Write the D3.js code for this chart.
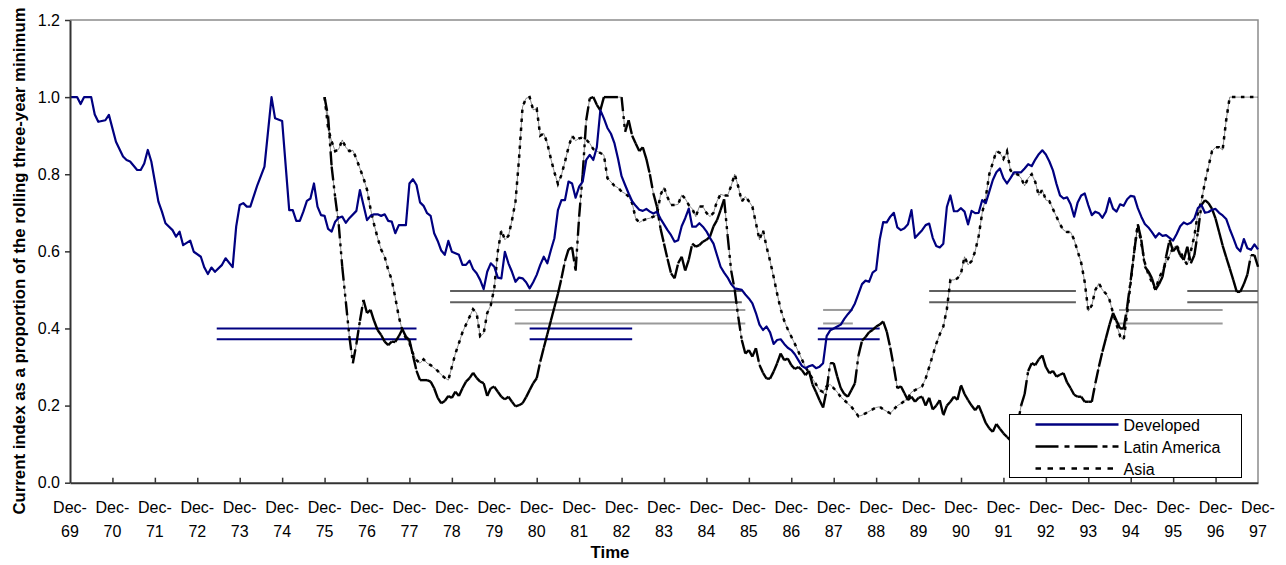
<!DOCTYPE html>
<html>
<head>
<meta charset="utf-8">
<script src="https://cdn.jsdelivr.net/npm/d3@7"></script>
<style>
  body { margin: 0; background: #fff; }
  text { font-family: Arial, "Liberation Sans", sans-serif; fill: #000; }
</style>
</head>
<body>
<svg id="chart" width="1286" height="565"></svg>
<script>
// Month offsets are counted from December 1969 (0) to December 1997 (336).
const yearLabels = ["69","70","71","72","73","74","75","76","77","78","79","80","81","82","83",
  "84","85","86","87","88","89","90","91","92","93","94","95","96","97"];
const yTicks = [0, 0.2, 0.4, 0.6, 0.8, 1.0, 1.2];

// Developed markets: [month, ratio]
const developed = [
  [0,1.0],[2,1.0],[3,0.982],[4,1.0],[6,1.0],[7,0.955],[8,0.936],[10,0.94],[11,0.954],[13,0.884],
  [15,0.846],[16,0.837],[17,0.833],[19,0.811],[20,0.811],[21,0.828],[22,0.863],[23,0.833],[24,0.781],
  [25,0.729],[26,0.703],[27,0.673],[29,0.655],[30,0.638],[31,0.651],[32,0.616],[34,0.628],[35,0.599],
  [37,0.586],[38,0.558],[39,0.541],[40,0.558],[41,0.547],[43,0.565],[44,0.582],[46,0.559],[47,0.664],
  [48,0.72],[49,0.725],[50,0.716],[51,0.716],[53,0.772],[55,0.82],[57,1.0],[58,0.945],[60,0.938],
  [62,0.707],[63,0.707],[64,0.679],[65,0.679],[66,0.703],[67,0.731],[68,0.737],[69,0.776],[70,0.716],
  [71,0.694],[72,0.692],[73,0.658],[74,0.651],[75,0.677],[76,0.687],[77,0.69],[78,0.674],[79,0.686],
  [81,0.705],[82,0.759],[83,0.72],[84,0.681],[85,0.692],[86,0.696],[87,0.696],[88,0.692],[89,0.696],
  [90,0.679],[91,0.677],[92,0.647],[93,0.668],[94,0.668],[95,0.668],[96,0.776],[97,0.787],[98,0.772],
  [99,0.727],[100,0.718],[101,0.699],[102,0.692],[103,0.647],[104,0.627],[105,0.602],[106,0.591],
  [107,0.627],[108,0.599],[109,0.595],[110,0.591],[111,0.565],[112,0.565],[113,0.576],[114,0.554],
  [115,0.543],[116,0.526],[117,0.502],[118,0.547],[119,0.569],[120,0.56],[121,0.532],[122,0.53],
  [123,0.599],[124,0.569],[125,0.547],[126,0.521],[127,0.532],[128,0.53],[129,0.52],[130,0.504],
  [131,0.52],[132,0.539],[133,0.565],[134,0.586],[135,0.569],[136,0.603],[137,0.634],[138,0.707],
  [139,0.733],[140,0.733],[141,0.781],[142,0.776],[143,0.739],[144,0.768],[145,0.781],[146,0.837],
  [147,0.85],[148,0.837],[149,0.87],[150,0.966],[151,0.945],[152,0.92],[153,0.905],[154,0.88],
  [155,0.84],[156,0.795],[157,0.772],[158,0.75],[159,0.73],[160,0.718],[161,0.708],[162,0.705],
  [163,0.71],[164,0.703],[165,0.698],[166,0.703],[167,0.685],[168,0.67],[169,0.655],[170,0.642],
  [171,0.625],[172,0.629],[173,0.665],[174,0.686],[175,0.711],[176,0.664],[177,0.664],[178,0.673],
  [179,0.664],[180,0.652],[181,0.635],[182,0.62],[183,0.59],[184,0.56],[185,0.545],[186,0.532],
  [187,0.515],[188,0.504],[189,0.502],[190,0.5],[191,0.488],[192,0.478],[193,0.465],[194,0.44],
  [195,0.41],[196,0.396],[197,0.405],[198,0.39],[199,0.36],[200,0.37],[201,0.372],[202,0.36],
  [203,0.35],[204,0.344],[205,0.333],[206,0.318],[207,0.303],[208,0.297],[209,0.302],[210,0.305],
  [211,0.297],[212,0.301],[213,0.31],[214,0.38],[215,0.395],[216,0.4],[217,0.405],[218,0.41],
  [219,0.425],[220,0.437],[221,0.448],[222,0.465],[223,0.49],[224,0.515],[225,0.524],[226,0.521],
  [227,0.545],[228,0.552],[229,0.63],[230,0.676],[231,0.675],[232,0.69],[233,0.7],[234,0.662],
  [235,0.655],[236,0.66],[237,0.67],[238,0.707],[239,0.635],[240,0.645],[241,0.655],[242,0.668],
  [243,0.672],[244,0.635],[245,0.614],[246,0.61],[247,0.62],[248,0.715],[249,0.745],[250,0.704],
  [251,0.704],[252,0.712],[253,0.703],[254,0.67],[255,0.705],[256,0.699],[257,0.7],[258,0.733],
  [259,0.725],[260,0.755],[261,0.785],[262,0.805],[263,0.815],[264,0.79],[265,0.776],[266,0.79],
  [267,0.805],[268,0.805],[269,0.805],[270,0.815],[271,0.826],[272,0.821],[273,0.838],[274,0.852],
  [275,0.862],[276,0.851],[277,0.833],[278,0.81],[279,0.775],[280,0.745],[281,0.737],[282,0.74],
  [283,0.722],[284,0.69],[285,0.727],[286,0.745],[287,0.75],[288,0.72],[289,0.694],[290,0.703],
  [291,0.699],[292,0.687],[293,0.703],[294,0.738],[295,0.711],[296,0.703],[297,0.722],[298,0.718],
  [299,0.735],[300,0.744],[301,0.742],[302,0.712],[303,0.69],[304,0.671],[305,0.662],[306,0.65],
  [307,0.636],[308,0.647],[309,0.64],[310,0.642],[311,0.635],[312,0.628],[313,0.645],[314,0.665],
  [315,0.675],[316,0.67],[317,0.674],[318,0.685],[319,0.712],[320,0.72],[321,0.7],[322,0.702],
  [323,0.708],[324,0.71],[325,0.7],[326,0.693],[327,0.684],[328,0.658],[329,0.635],[330,0.61],
  [331,0.6],[332,0.632],[333,0.608],[334,0.604],[335,0.618],[336,0.605]
];

// Latin America: [month, ratio]
const latinAmerica = [
  [72,1.0],[73,0.95],[74,0.82],[75,0.74],[76,0.67],[77,0.56],[78,0.47],[79,0.38],[80,0.31],[81,0.36],
  [82,0.42],[83,0.474],[84,0.44],[85,0.448],[86,0.42],[87,0.396],[88,0.383],[89,0.366],[90,0.357],
  [91,0.366],[92,0.365],[93,0.38],[94,0.398],[95,0.379],[96,0.37],[97,0.33],[98,0.29],[99,0.266],
  [101,0.266],[102,0.262],[103,0.245],[104,0.22],[105,0.206],[106,0.212],[107,0.225],[108,0.22],
  [109,0.236],[110,0.225],[111,0.245],[112,0.262],[113,0.271],[114,0.285],[115,0.272],[116,0.262],
  [117,0.258],[118,0.225],[119,0.245],[120,0.249],[121,0.236],[122,0.223],[123,0.216],[124,0.223],
  [125,0.21],[126,0.198],[127,0.201],[128,0.206],[129,0.222],[130,0.24],[131,0.258],[132,0.271],
  [133,0.314],[134,0.35],[135,0.385],[136,0.42],[137,0.455],[138,0.49],[139,0.53],[140,0.575],
  [141,0.605],[142,0.61],[143,0.55],[144,0.69],[145,0.8],[146,0.94],[147,0.997],[148,1.0],[149,0.98],
  [150,0.966],[151,1.0],[156,1.0],[157,0.91],[158,0.94],[159,0.9],[160,0.88],[161,0.86],[162,0.87],
  [163,0.84],[164,0.8],[165,0.75],[166,0.716],[167,0.66],[168,0.62],[169,0.58],[170,0.543],
  [171,0.53],[172,0.569],[173,0.586],[174,0.55],[175,0.578],[176,0.62],[177,0.612],[178,0.616],
  [179,0.625],[180,0.63],[181,0.638],[182,0.665],[183,0.681],[184,0.707],[185,0.735],[186,0.64],
  [187,0.55],[188,0.5],[189,0.43],[190,0.37],[191,0.335],[192,0.344],[193,0.327],[194,0.349],
  [195,0.305],[196,0.285],[197,0.27],[198,0.27],[199,0.288],[200,0.31],[201,0.335],[202,0.318],
  [203,0.322],[204,0.305],[205,0.295],[206,0.3],[207,0.292],[208,0.279],[209,0.29],[210,0.255],
  [211,0.235],[212,0.214],[213,0.195],[214,0.24],[215,0.31],[216,0.31],[217,0.275],[218,0.245],
  [219,0.23],[220,0.223],[221,0.24],[222,0.258],[223,0.33],[224,0.368],[225,0.378],[226,0.39],
  [227,0.396],[228,0.405],[229,0.41],[230,0.418],[231,0.392],[232,0.35],[233,0.3],[234,0.245],
  [235,0.25],[236,0.232],[237,0.214],[238,0.223],[239,0.21],[240,0.22],[241,0.223],[242,0.2],
  [243,0.22],[244,0.19],[245,0.2],[246,0.214],[247,0.175],[248,0.2],[249,0.21],[250,0.223],
  [251,0.215],[252,0.253],[253,0.23],[254,0.214],[255,0.2],[256,0.188],[257,0.2],[258,0.178],
  [259,0.155],[260,0.141],[261,0.132],[262,0.152],[263,0.14],[264,0.128],[265,0.119],[266,0.11],
  [267,0.12],[268,0.15],[269,0.2],[270,0.23],[271,0.29],[272,0.31],[273,0.305],[274,0.32],
  [275,0.33],[276,0.3],[277,0.284],[278,0.29],[279,0.275],[280,0.28],[281,0.284],[282,0.26],
  [283,0.245],[284,0.228],[285,0.223],[286,0.223],[287,0.21],[288,0.21],[289,0.21],[290,0.258],
  [291,0.301],[292,0.34],[293,0.375],[294,0.41],[295,0.44],[296,0.42],[297,0.4],[298,0.4],
  [299,0.456],[300,0.526],[301,0.6],[302,0.67],[303,0.63],[304,0.56],[305,0.548],[306,0.53],
  [307,0.5],[308,0.515],[309,0.534],[310,0.586],[311,0.63],[312,0.6],[313,0.612],[314,0.59],
  [315,0.578],[316,0.612],[317,0.569],[318,0.59],[319,0.65],[320,0.72],[321,0.733],[322,0.725],
  [323,0.71],[324,0.685],[325,0.65],[326,0.615],[327,0.585],[328,0.556],[329,0.526],[330,0.495],
  [331,0.495],[332,0.515],[333,0.54],[334,0.59],[335,0.59],[336,0.56]
];

// Asia: [month, ratio]
const asia = [
  [72,1.0],[73,0.92],[74,0.885],[75,0.86],[76,0.865],[77,0.889],[78,0.87],[79,0.86],[80,0.862],
  [81,0.84],[82,0.815],[83,0.79],[84,0.76],[85,0.71],[86,0.67],[87,0.635],[88,0.605],[89,0.586],
  [90,0.552],[91,0.526],[92,0.48],[93,0.43],[94,0.395],[95,0.375],[96,0.362],[97,0.335],[98,0.318],
  [99,0.31],[100,0.32],[101,0.31],[102,0.305],[103,0.297],[104,0.29],[105,0.28],[106,0.272],
  [107,0.266],[108,0.3],[109,0.335],[110,0.362],[111,0.39],[112,0.41],[113,0.43],[114,0.45],
  [115,0.44],[116,0.38],[117,0.387],[118,0.44],[119,0.46],[120,0.505],[121,0.6],[122,0.655],
  [123,0.63],[124,0.64],[125,0.68],[126,0.73],[127,0.84],[128,0.975],[129,0.997],[130,1.0],
  [131,0.967],[132,0.97],[133,0.9],[134,0.906],[135,0.88],[136,0.84],[137,0.805],[138,0.775],
  [139,0.798],[140,0.833],[141,0.87],[142,0.9],[143,0.887],[144,0.893],[145,0.895],[146,0.89],
  [147,0.88],[148,0.865],[149,0.86],[150,0.855],[151,0.85],[152,0.79],[153,0.78],[154,0.77],
  [155,0.765],[156,0.755],[157,0.75],[158,0.742],[159,0.725],[160,0.685],[161,0.675],[162,0.68],
  [163,0.684],[164,0.686],[165,0.69],[166,0.694],[167,0.746],[168,0.766],[169,0.74],[170,0.72],
  [171,0.72],[172,0.722],[173,0.746],[174,0.737],[175,0.72],[176,0.71],[177,0.69],[178,0.716],
  [179,0.716],[180,0.7],[181,0.69],[182,0.7],[183,0.73],[184,0.748],[185,0.745],[186,0.745],
  [187,0.77],[188,0.8],[189,0.768],[190,0.729],[191,0.742],[192,0.73],[193,0.716],[194,0.673],
  [195,0.63],[196,0.655],[197,0.612],[198,0.575],[199,0.534],[200,0.49],[201,0.45],[202,0.42],
  [203,0.398],[204,0.379],[205,0.36],[206,0.34],[207,0.32],[208,0.3],[209,0.285],[210,0.27],
  [211,0.255],[212,0.24],[213,0.235],[214,0.25],[215,0.255],[216,0.245],[217,0.235],[218,0.222],
  [219,0.214],[220,0.205],[221,0.197],[222,0.185],[223,0.172],[224,0.175],[225,0.18],[226,0.185],
  [227,0.19],[228,0.195],[229,0.197],[230,0.19],[231,0.185],[232,0.18],[233,0.19],[234,0.2],
  [235,0.205],[236,0.212],[237,0.22],[238,0.235],[239,0.24],[240,0.245],[241,0.25],[242,0.27],
  [243,0.3],[244,0.33],[245,0.36],[246,0.385],[247,0.405],[248,0.45],[249,0.526],[250,0.526],
  [251,0.53],[252,0.543],[253,0.586],[254,0.565],[255,0.575],[256,0.6],[257,0.64],[258,0.7],
  [259,0.74],[260,0.8],[261,0.83],[262,0.86],[263,0.855],[264,0.84],[265,0.86],[266,0.81],
  [267,0.8],[268,0.8],[269,0.79],[270,0.77],[271,0.79],[272,0.8],[273,0.78],[274,0.745],
  [275,0.76],[276,0.733],[277,0.73],[278,0.71],[279,0.69],[280,0.67],[281,0.655],[282,0.65],
  [283,0.65],[284,0.63],[285,0.6],[286,0.57],[287,0.52],[288,0.445],[289,0.46],[290,0.5],
  [291,0.517],[292,0.5],[293,0.49],[294,0.474],[295,0.44],[296,0.41],[297,0.38],[298,0.37],
  [299,0.44],[300,0.52],[301,0.6],[302,0.67],[303,0.62],[304,0.57],[305,0.54],[306,0.52],
  [307,0.5],[308,0.53],[309,0.55],[310,0.57],[311,0.59],[312,0.61],[313,0.615],[314,0.6],
  [315,0.58],[316,0.565],[317,0.6],[318,0.64],[319,0.7],[320,0.73],[321,0.78],[322,0.82],
  [323,0.86],[324,0.87],[325,0.87],[326,0.863],[327,0.94],[328,1.0],[336,1.0]
];

// Threshold bands: each entry is [startMonth, endMonth]; each band is drawn at two levels.
const developedBands = [[41.5, 98], [130, 159], [211.5, 229]];
const developedLevels = [0.40, 0.372];
const latinBands = [[125.8, 191], [213, 221.4], [296.7, 326]];
const latinLevels = [0.448, 0.413];
const asiaBands = [[107.5, 190], [243, 284.5], [316, 336]];
const asiaLevels = [0.497, 0.468];

const svg = d3.select("#chart");
const x = d3.scaleLinear().domain([0, 336]).range([70, 1258]);
const y = d3.scaleLinear().domain([0, 1.2]).range([482.7, 20]);

// plot frame (top and right edges)
svg.append("path")
  .attr("d", `M${x(0)},${y(1.2)}H${x(336)}V${y(0)}`)
  .attr("fill", "none").attr("stroke", "#8c8c8c").attr("stroke-width", 1.5);

// threshold bands
function drawBands(bands, levels, color) {
  const g = svg.append("g");
  bands.forEach(([a, b]) => {
    levels.forEach(v => {
      g.append("line")
        .attr("x1", x(a)).attr("x2", x(b))
        .attr("y1", y(v)).attr("y2", y(v))
        .attr("stroke", color).attr("stroke-width", 2);
    });
  });
}
drawBands(asiaBands, asiaLevels, "#5f5f5f");
drawBands(latinBands, latinLevels, "#9a9a9a");
drawBands(developedBands, developedLevels, "#000080");

const line = d3.line().x(d => x(d[0])).y(d => y(d[1]));

// Asia: dotted, with a hairline beneath
svg.append("path").datum(asia).attr("d", line)
  .attr("fill", "none").attr("stroke", "#000").attr("stroke-width", 0.6).attr("stroke-opacity", 0.75);
svg.append("path").datum(asia).attr("d", line)
  .attr("fill", "none").attr("stroke", "#000").attr("stroke-width", 2.5)
  .attr("stroke-dasharray", "3.5,5.5");

// Latin America: long dash / dot / dot, restarted on every segment
svg.append("path").datum(latinAmerica).attr("d", line)
  .attr("fill", "none").attr("stroke", "#000").attr("stroke-width", 0.6).attr("stroke-opacity", 0.75);
const gLat = svg.append("g");
d3.pairs(latinAmerica).forEach(([a, b]) => {
  gLat.append("line")
    .attr("x1", x(a[0])).attr("y1", y(a[1]))
    .attr("x2", x(b[0])).attr("y2", y(b[1]))
    .attr("stroke", "#000").attr("stroke-width", 2.4)
    .attr("stroke-dasharray", "14,5,3,5,3,5");
});

// Developed: solid navy
svg.append("path").datum(developed).attr("d", line)
  .attr("fill", "none").attr("stroke", "#000080").attr("stroke-width", 2.2)
  .attr("stroke-linejoin", "round");

// y axis
const yAxis = svg.append("g").attr("transform", `translate(${x(0)},0)`)
  .call(d3.axisLeft(y).tickValues(yTicks).tickFormat(d3.format(".1f")).tickSizeInner(5).tickSizeOuter(0).tickPadding(5));
yAxis.select(".domain").attr("stroke", "#333").attr("stroke-width", 2);
yAxis.selectAll(".tick line").attr("stroke", "#333").attr("stroke-width", 1.5);
yAxis.selectAll(".tick text").attr("font-size", 16).attr("font-family", "Arial, 'Liberation Sans', sans-serif");

// x axis: tick marks between years point into the plot
const xAxis = svg.append("g").attr("transform", `translate(0,${y(0)})`)
  .call(d3.axisBottom(x).tickValues(d3.range(12, 336, 12)).tickFormat("").tickSizeInner(-5).tickSizeOuter(0));
xAxis.select(".domain").attr("stroke", "#333").attr("stroke-width", 2);
xAxis.selectAll(".tick line").attr("stroke", "#333").attr("stroke-width", 1.5);

const xLab = svg.append("g");
yearLabels.forEach((yr, i) => {
  const t = xLab.append("text").attr("text-anchor", "middle").attr("font-size", 16);
  t.append("tspan").attr("x", x(i * 12)).attr("y", 513).text("Dec-");
  t.append("tspan").attr("x", x(i * 12)).attr("y", 537).text(yr);
});

// axis titles
svg.append("text").attr("x", 610).attr("y", 558).attr("text-anchor", "middle")
  .attr("font-size", 16.8).attr("font-weight", "bold").text("Time");
svg.append("text")
  .attr("transform", `translate(25,261) rotate(-90)`)
  .attr("text-anchor", "middle").attr("font-size", 16.8).attr("font-weight", "bold")
  .text("Current index as a proportion of the rolling three-year minimum");

// legend
const lg = svg.append("g").attr("transform", "translate(1009.5,414.5)");
lg.append("rect").attr("width", 232).attr("height", 63)
  .attr("fill", "#fff").attr("stroke", "#000").attr("stroke-width", 1);
const legendItems = [
  { name: "Developed", color: "#000080", dash: null },
  { name: "Latin America", color: "#000", dash: "23,6,5,5,23,5,5,5,6,40" },
  { name: "Asia", color: "#000", dash: "5.5,6.5" }
];
legendItems.forEach((d, i) => {
  const yy = 10 + i * 22;
  lg.append("line").attr("x1", 26).attr("x2", 109).attr("y1", yy).attr("y2", yy)
    .attr("stroke", d.color).attr("stroke-width", 2.4)
    .attr("stroke-dasharray", d.dash);
  lg.append("text").attr("x", 114).attr("y", yy + 6).attr("font-size", 16).text(d.name);
});
</script>
</body>
</html>
